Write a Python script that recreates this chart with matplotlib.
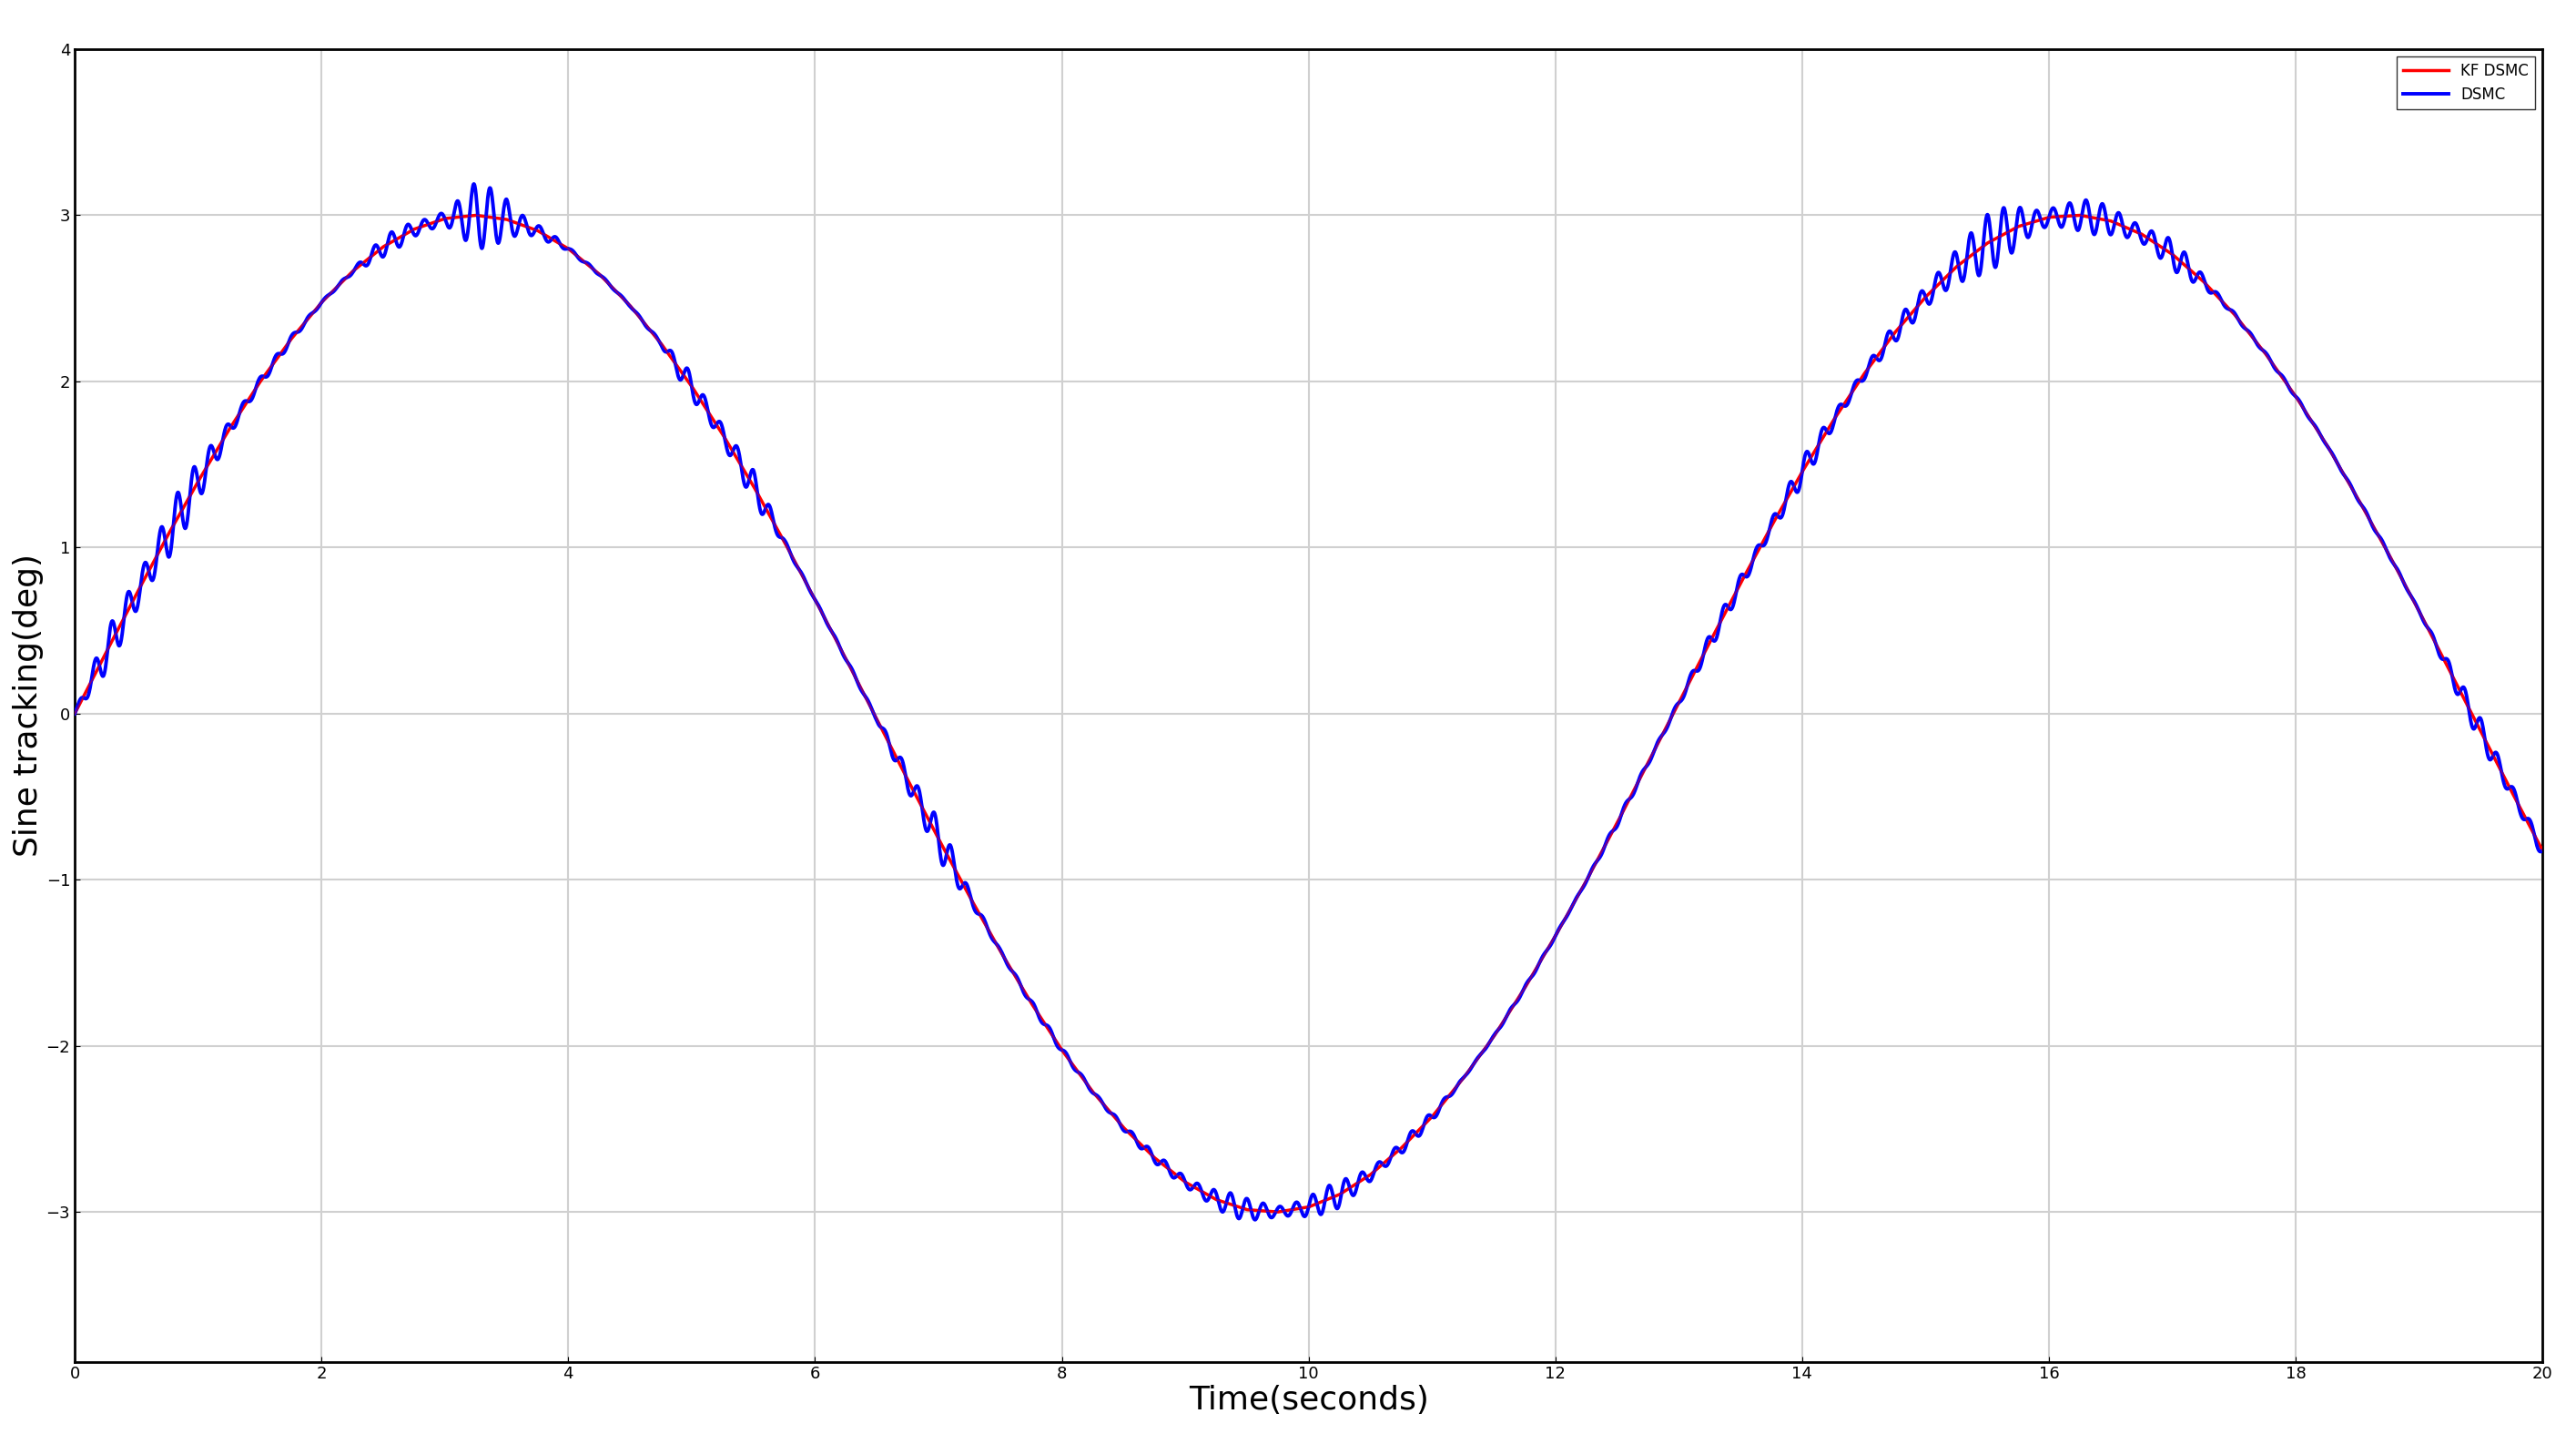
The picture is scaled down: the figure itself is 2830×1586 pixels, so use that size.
import numpy as np
import matplotlib
matplotlib.use("Agg")
import matplotlib.pyplot as plt

# reference (KF DSMC) trajectory read every 0.25 s
t_ref = np.arange(0, 20.001, 0.25)
kf_dsmc = [0, .363, .720, 1.068, 1.398, 1.709, 1.995, 2.251, 2.475, 2.661, 2.810, 2.916,
           2.980, 3.000, 2.975, 2.908, 2.799, 2.647, 2.457, 2.230, 1.971, 1.683, 1.371, 1.036,
           .687, .331, -.033, -.396, -.752, -1.097, -1.427, -1.739, -2.024, -2.275, -2.491,
           -2.672, -2.819, -2.924, -2.985, -2.999, -2.969, -2.894, -2.775, -2.615, -2.426,
           -2.198, -1.944, -1.653, -1.338, -1.007, -.658, -.297, .066, .428, .784, 1.128,
           1.456, 1.762, 2.043, 2.293, 2.508, 2.690, 2.832, 2.932, 2.988, 3.000, 2.966,
           2.887, 2.765, 2.603, 2.406, 2.172, 1.910, 1.620, 1.300, .966, .617, .256, -.107,
           -.469, -.823]
# DSMC chattering amplitude read per 0.25 s
chatter = [.01, .12, .18, .2, .12, .08, .04, .02, .01, .02, .06, .07, .07, .2, .18, .06,
           .01, .01, .01, .01, .1, .1, .1, .02, .01, .01, .01, .13, .13, .04, .02, .02,
           .02, .02, .02, .03, .06, .07, .07, .06, .08, .08, .07, .05, .03, .01, .01, .01,
           .01, .01, .02, .02, .03, .05, .07, .07, .08, .06, .06, .06, .08, .2, .18, .15,
           .1, .1, .1, .1, .1, .04, .02, .01, .01, .01, .01, .01, .01, .06, .08, .08, .06]

t = np.linspace(0, 20, 8001)
red = np.interp(t, t_ref, kf_dsmc)
env = np.interp(t, t_ref, chatter)
blue = red + env * np.sin(2 * np.pi * 7.5 * t) * (0.75 + 0.25 * np.sin(2 * np.pi * 1.3 * t))

fig = plt.figure(figsize=(28.3, 15.86), dpi=100)
ax = fig.add_axes([0.029, 0.057, 0.958, 0.909])
ax.plot(t, red, color='red', lw=2.5, label='KF DSMC', zorder=3)
ax.plot(t, blue, color='blue', lw=2.8, label='DSMC', zorder=4)
ax.plot(t, red, color='red', lw=1.2, zorder=5, alpha=0.5)
ax.set_xlim(0, 20)
ax.set_ylim(-3.9, 4)
ax.set_xticks(range(0, 21, 2))
ax.set_yticks(range(-3, 5))
ax.set_yticklabels(['\u2212%d' % -v if v < 0 else str(v) for v in range(-3, 5)])
ax.tick_params(labelsize=13, direction='in', length=4)
ax.grid(True, color='#d0d0d0', lw=1.5)
for s in ax.spines.values():
    s.set_linewidth(2)
ax.set_xlabel('Time(seconds)', fontsize=26, labelpad=2)
ax.set_ylabel('Sine tracking(deg)', fontsize=26, labelpad=2)
ax.legend(loc='upper right', fontsize=12, frameon=True, fancybox=False,
          edgecolor='black', handlelength=3)
fig.savefig('out.png', dpi=100)
